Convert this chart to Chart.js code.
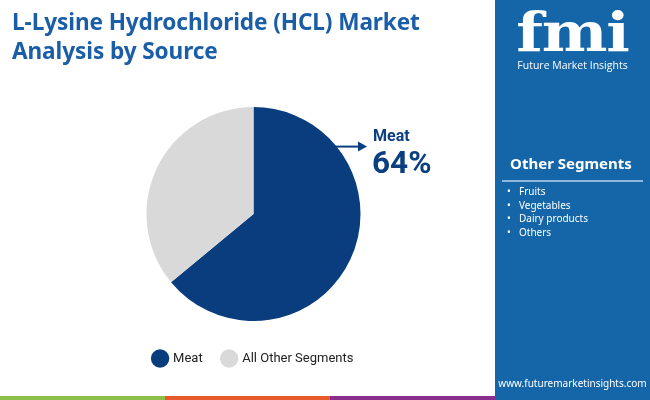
<!DOCTYPE html>
<html>
<head>
<meta charset="utf-8">
<script src="https://cdn.jsdelivr.net/npm/chart.js@4.4.0/dist/chart.umd.min.js"></script>
<style>
  html, body { margin:0; padding:0; width:650px; height:400px; overflow:hidden; background:#ffffff; font-family:"Noto Sans", Roboto, sans-serif; }
  #wrap { position:relative; width:650px; height:400px; }
  #chartBox { position:absolute; left:0; top:0; width:507px; height:400px; }
  #title { position:absolute; left:12px; top:7px; margin:0; font-family:"Noto Sans", sans-serif; font-weight:700; font-size:22.6px; line-height:29px; color:#1b5ea8; letter-spacing:-0.1px; }
  #panel { position:absolute; left:495px; top:0; width:155px; height:400px; background:#1566a8; color:#fff; }
  #logo { position:absolute; left:0; top:0px; width:155px; text-align:center; font-family:"DejaVu Serif", serif; font-weight:700; font-size:54px; line-height:64px; color:#fff; letter-spacing:-1px; transform:scaleX(1.15); transform-origin:center; }
  #logoSub { position:absolute; left:0; top:58px; width:155px; text-align:center; font-family:"Open Sans", sans-serif; font-size:10.5px; color:#fff; }
  #segTitle { position:absolute; left:0; top:153px; width:152px; text-align:center; font-family:"Noto Sans", sans-serif; font-weight:700; font-size:15px; color:#fff; }
  #segLine { position:absolute; left:7px; top:180px; width:141px; height:2px; background:#8fb6dc; }
  #segList { position:absolute; left:12px; top:185px; margin:0; padding:0; list-style:none; font-family:"Noto Sans", sans-serif; font-size:10px; line-height:13.7px; color:#fff; }
  #segList li::before { content:"•"; display:inline-block; width:12px; font-size:10px; }
  #url { position:absolute; left:0; top:376px; width:155px; text-align:center; font-family:"Noto Sans", sans-serif; font-size:10px; color:#fff; }
  #annLabel { position:absolute; left:373px; top:126px; font-family:Roboto, sans-serif; font-weight:700; font-size:16px; color:#0b3f80; }
  #annValue { position:absolute; left:372px; top:144px; font-family:Roboto, sans-serif; font-weight:700; font-size:31.5px; color:#0b3f80; }
  .bar { position:absolute; top:396px; height:4px; }
</style>
</head>
<body>
<div id="wrap">
  <div id="chartBox"><canvas id="c"></canvas></div>
  <div id="title">L-Lysine Hydrochloride (HCL) Market<br>Analysis by Source</div>
  <div id="annLabel">Meat</div>
  <div id="annValue">64%</div>
  <div class="bar" style="left:0;width:165px;background:#8cc04a;"></div>
  <div class="bar" style="left:165px;width:165px;background:#e8592b;"></div>
  <div class="bar" style="left:330px;width:165px;background:#8a2e8c;"></div>
  <div id="panel">
    <div id="logo">fmi</div>
    <div id="logoSub">Future Market Insights</div>
    <div id="segTitle">Other Segments</div>
    <div id="segLine"></div>
    <ul id="segList"></ul>
    <div id="url">www.futuremarketinsights.com</div>
  </div>
</div>
<script>
const categories = ["Meat", "All Other Segments"];
const shares = [64, 36];
const sliceColors = ["#0a3d7e", "#d9d9d9"];
const otherSegments = ["Fruits", "Vegetables", "Dairy products", "Others"];

document.getElementById("segList").innerHTML = otherSegments.map(s => "<li>" + s + "</li>").join("");

const arrowPlugin = {
  id: "arrowPlugin",
  afterDatasetsDraw(chart) {
    const arc = chart.getDatasetMeta(0).data[0];
    if (!arc) return;
    const ctx = chart.ctx;
    const r = arc.outerRadius;
    const y = arc.y - r * 0.63;
    const x0 = arc.x + Math.sqrt(r * r - (y - arc.y) * (y - arc.y)) - 1;
    const x1 = 367;
    ctx.save();
    ctx.strokeStyle = "#0b3f80";
    ctx.fillStyle = "#0b3f80";
    ctx.lineWidth = 2;
    ctx.beginPath(); ctx.moveTo(x0, y); ctx.lineTo(x1 - 6, y); ctx.stroke();
    ctx.beginPath(); ctx.moveTo(x1, y); ctx.lineTo(x1 - 9, y - 5); ctx.lineTo(x1 - 9, y + 5); ctx.closePath(); ctx.fill();
    ctx.restore();
  }
};

new Chart(document.getElementById("c"), {
  type: "pie",
  data: {
    labels: categories,
    datasets: [{ data: shares, backgroundColor: sliceColors, borderWidth: 0 }]
  },
  options: {
    responsive: true,
    maintainAspectRatio: false,
    animation: false,
    radius: 107,
    layout: { padding: { top: 96, bottom: 25, left: 0, right: 0 } },
    plugins: {
      tooltip: { enabled: false },
      legend: {
        position: "bottom",
        labels: {
          usePointStyle: true,
          pointStyle: "circle",
          boxWidth: 18,
          boxHeight: 18,
          padding: 20,
          color: "#222",
          font: { family: "Roboto", size: 13 }
        }
      }
    }
  },
  plugins: [arrowPlugin]
});
</script>
</body>
</html>
